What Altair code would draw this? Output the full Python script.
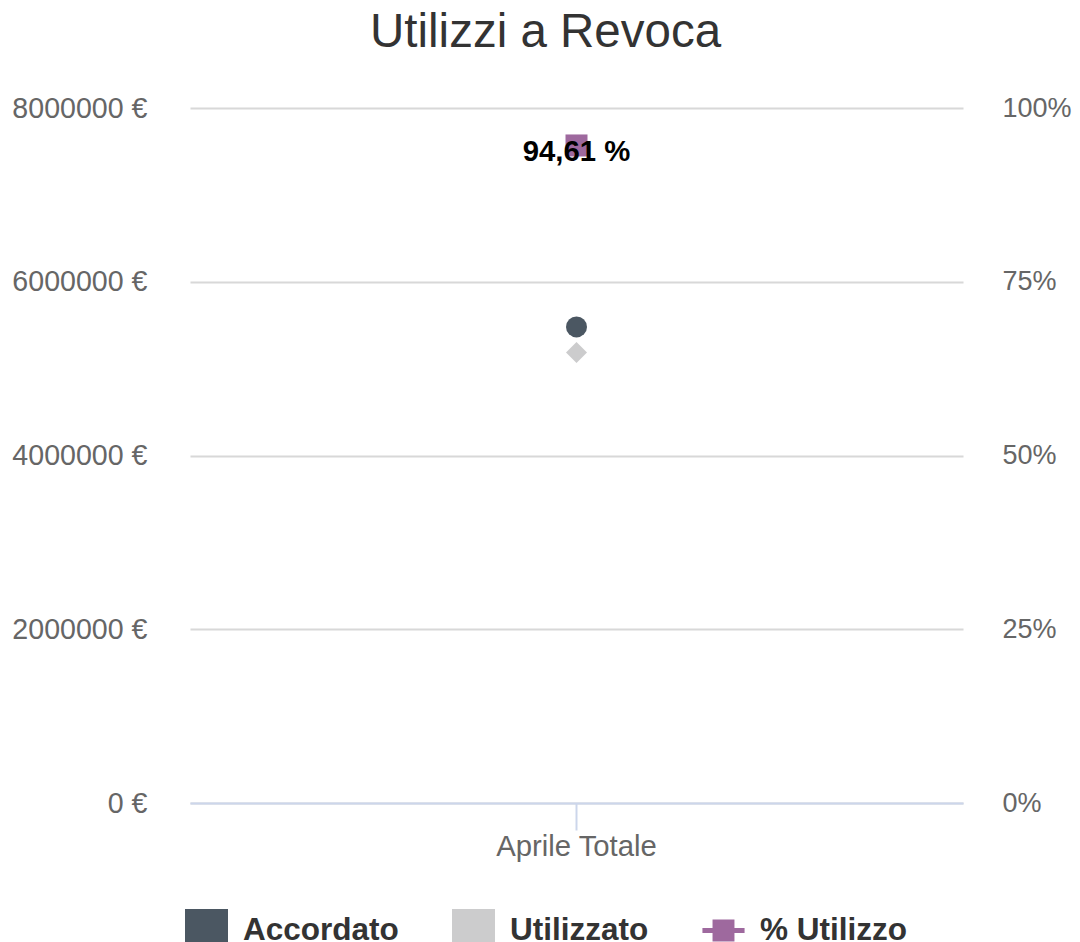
import altair as alt
import pandas as pd

# ---- data ----
categoria = ["Aprile Totale"]
serie = ["Accordato", "Utilizzato", "% Utilizzo"]
accordato = [5480000]
utilizzato = [5184600]
perc_utilizzo = [94.61]
perc_label = ["94,61 %"]
colori = ["#4b5762", "#cccccd", "#9e699e"]
left_ticks = [0, 2000000, 4000000, 6000000, 8000000]
right_ticks = [0, 25, 50, 75, 100]

FONT = "Liberation Sans, Arial, sans-serif"
AXIS_FS = 28.6

df_acc = pd.DataFrame({"cat": categoria, "serie": "Accordato", "val": accordato})
df_uti = pd.DataFrame({"cat": categoria, "serie": "Utilizzato", "val": utilizzato})
df_pct = pd.DataFrame({"cat": categoria, "serie": "% Utilizzo", "val": perc_utilizzo, "label": perc_label})
df_leg = pd.DataFrame({"cat": categoria * len(serie), "serie": serie, "val": [0] * len(serie)})

# line-with-square legend glyph; the zero-size subpaths keep its bounds as tall as the squares
legend_path = ("M-0.98,-0.12H-0.51V-0.51H0.51V-0.12H0.98V0.12H0.51V0.51H-0.51V0.12H-0.98Z"
               "M0,-1L0,-1ZM0,1L0,1Z")
legend_shapes = ["square", "square", legend_path]


def make_legend():
    return alt.Legend(
        title=None, orient="none", legendX=-5, legendY=801,
        direction="horizontal", symbolSize=1849,
        symbolStrokeWidth=0, symbolOpacity=1,
        labelFont=FONT, labelFontSize=31.5, labelFontWeight="bold",
        labelColor="#333333", labelOffset=15, columnPadding=53,
        padding=0, labelLimit=300,
    )


x_enc = alt.X(
    "cat:N",
    scale=alt.Scale(type="band", paddingInner=0, paddingOuter=0),
    axis=alt.Axis(
        title=None, labelAngle=0, grid=False,
        domainColor="#ccd6eb", domainWidth=2,
        tickColor="#ccd6eb", tickWidth=2, tickSize=27,
        labelPadding=2, labelFontSize=29.3, labelColor="#666666", labelFont=FONT,
        zindex=1,
    ),
)

color_enc = alt.Color(
    "serie:N",
    scale=alt.Scale(domain=serie, range=colori),
    legend=make_legend(),
)
shape_enc = alt.Shape(
    "serie:N",
    scale=alt.Scale(domain=serie, range=legend_shapes),
    legend=make_legend(),
)

y_left = alt.Y(
    "val:Q",
    scale=alt.Scale(domain=[0, 8000000], nice=False, zero=True),
    axis=alt.Axis(
        orient="left", title=None, values=left_ticks,
        labelExpr="format(datum.value, 'd') + ' €'",
        grid=True, gridColor="#d8d8d8", gridWidth=2,
        domain=False, ticks=False, labelPadding=43,
        labelFontSize=AXIS_FS, labelColor="#666666", labelFont=FONT,
    ),
)

y_right = alt.Y(
    "val:Q",
    scale=alt.Scale(domain=[0, 100], nice=False),
    axis=alt.Axis(
        orient="right", title=None, values=right_ticks,
        labelExpr="datum.value + '%'",
        grid=False, domain=False, ticks=False, labelPadding=39,
        labelFontSize=27, labelColor="#666666", labelFont=FONT,
    ),
)

# legend-only layer (no rows survive the filter; it just feeds the legend)
leg = alt.Chart(df_leg).transform_filter("false").mark_point(filled=True, opacity=1).encode(
    x=x_enc, y=y_left, color=color_enc, shape=shape_enc
)
acc = alt.Chart(df_acc).mark_point(shape="circle", filled=True, size=441, opacity=1).encode(
    x=x_enc, y=y_left, color=color_enc
)
uti = alt.Chart(df_uti).mark_point(shape="diamond", filled=True, size=441, opacity=1).encode(
    x=x_enc, y=y_left, color=color_enc
)
pct = alt.Chart(df_pct).mark_point(shape="square", filled=True, size=484, opacity=1).encode(
    x=x_enc, y=y_right, color=color_enc
)
txt = alt.Chart(df_pct).mark_text(
    fontSize=29.3, fontWeight="bold", font=FONT, color="#000000", dy=7
).encode(x=x_enc, y=y_right, text="label:N")

left = alt.layer(leg, acc, uti)
right = alt.layer(pct, txt)

chart = (
    alt.layer(left, right)
    .resolve_scale(y="independent")
    .properties(
        width=773,
        height=695,
        title=alt.TitleParams(
            "Utilizzi a Revoca", fontSize=47.5, font=FONT, fontWeight="normal",
            color="#333333", offset=38, anchor="middle", dx=-31,
        ),
        autosize=alt.AutoSizeParams(type="none"),
        padding={"left": 182, "top": 100, "right": 109, "bottom": 160},
    )
    .configure_view(stroke=None)
)

chart.save("out.html", embed_options={"renderer": "svg", "actions": False})
